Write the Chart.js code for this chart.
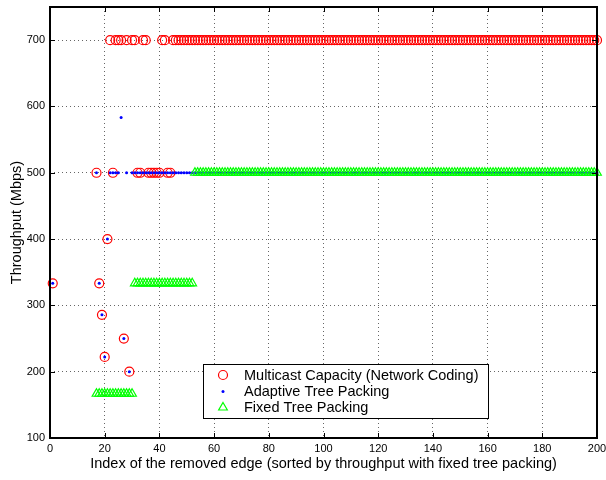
<!DOCTYPE html>
<html>
<head>
<meta charset="utf-8">
<script src="https://cdn.jsdelivr.net/npm/chart.js@4"></script>
<style>
  html, body { margin: 0; padding: 0; background: #fff; }
  canvas { display: block; }
</style>
</head>
<body>
<canvas id="chart" width="606" height="480"></canvas>
<script>
// x: index of the removed edge, 1..200
const capacity = [
  333.3, null, null, null, null, null, null, null, null, null, null, null, null, null, null, null, 500, 333.3, 285.7, 222.2,
  400, 700, 500, 700, 700, 700, 250, 700, 200, 700, 700, 500, 500, 700, 700, 500, 500, 500, 500, 500,
  700, 700, 500, 500, 700, 700, 700, 700, 700, 700, 700, 700, 700, 700, 700, 700, 700, 700, 700, 700,
  700, 700, 700, 700, 700, 700, 700, 700, 700, 700, 700, 700, 700, 700, 700, 700, 700, 700, 700, 700,
  700, 700, 700, 700, 700, 700, 700, 700, 700, 700, 700, 700, 700, 700, 700, 700, 700, 700, 700, 700,
  700, 700, 700, 700, 700, 700, 700, 700, 700, 700, 700, 700, 700, 700, 700, 700, 700, 700, 700, 700,
  700, 700, 700, 700, 700, 700, 700, 700, 700, 700, 700, 700, 700, 700, 700, 700, 700, 700, 700, 700,
  700, 700, 700, 700, 700, 700, 700, 700, 700, 700, 700, 700, 700, 700, 700, 700, 700, 700, 700, 700,
  700, 700, 700, 700, 700, 700, 700, 700, 700, 700, 700, 700, 700, 700, 700, 700, 700, 700, 700, 700,
  700, 700, 700, 700, 700, 700, 700, 700, 700, 700, 700, 700, 700, 700, 700, 700, 700, 700, 700, 700
];

const adaptive = [
  333.3, null, null, null, null, null, null, null, null, null, null, null, null, null, null, null, 500, 333.3, 285.7, 222.2,
  400, 500, 500, 500, 500, 583.3, 250, 500, 200, 500, 500, 500, 500, 500, 500, 500, 500, 500, 500, 500,
  500, 500, 500, 500, 500, 500, 500, 500, 500, 500, 500, 500, 500, 500, 500, 500, 500, 500, 500, 500,
  500, 500, 500, 500, 500, 500, 500, 500, 500, 500, 500, 500, 500, 500, 500, 500, 500, 500, 500, 500,
  500, 500, 500, 500, 500, 500, 500, 500, 500, 500, 500, 500, 500, 500, 500, 500, 500, 500, 500, 500,
  500, 500, 500, 500, 500, 500, 500, 500, 500, 500, 500, 500, 500, 500, 500, 500, 500, 500, 500, 500,
  500, 500, 500, 500, 500, 500, 500, 500, 500, 500, 500, 500, 500, 500, 500, 500, 500, 500, 500, 500,
  500, 500, 500, 500, 500, 500, 500, 500, 500, 500, 500, 500, 500, 500, 500, 500, 500, 500, 500, 500,
  500, 500, 500, 500, 500, 500, 500, 500, 500, 500, 500, 500, 500, 500, 500, 500, 500, 500, 500, 500,
  500, 500, 500, 500, 500, 500, 500, 500, 500, 500, 500, 500, 500, 500, 500, 500, 500, 500, 500, 500
];

const fixed = [
  null, null, null, null, null, null, null, null, null, null, null, null, null, null, null, null, 166.7, 166.7, 166.7, 166.7,
  166.7, 166.7, 166.7, 166.7, 166.7, 166.7, 166.7, 166.7, 166.7, 166.7, 333.3, 333.3, 333.3, 333.3, 333.3, 333.3, 333.3, 333.3, 333.3, 333.3,
  333.3, 333.3, 333.3, 333.3, 333.3, 333.3, 333.3, 333.3, 333.3, 333.3, 333.3, 333.3, 500, 500, 500, 500, 500, 500, 500, 500,
  500, 500, 500, 500, 500, 500, 500, 500, 500, 500, 500, 500, 500, 500, 500, 500, 500, 500, 500, 500,
  500, 500, 500, 500, 500, 500, 500, 500, 500, 500, 500, 500, 500, 500, 500, 500, 500, 500, 500, 500,
  500, 500, 500, 500, 500, 500, 500, 500, 500, 500, 500, 500, 500, 500, 500, 500, 500, 500, 500, 500,
  500, 500, 500, 500, 500, 500, 500, 500, 500, 500, 500, 500, 500, 500, 500, 500, 500, 500, 500, 500,
  500, 500, 500, 500, 500, 500, 500, 500, 500, 500, 500, 500, 500, 500, 500, 500, 500, 500, 500, 500,
  500, 500, 500, 500, 500, 500, 500, 500, 500, 500, 500, 500, 500, 500, 500, 500, 500, 500, 500, 500,
  500, 500, 500, 500, 500, 500, 500, 500, 500, 500, 500, 500, 500, 500, 500, 500, 500, 500, 500, 500
];

const xTicks = [0, 20, 40, 60, 80, 100, 120, 140, 160, 180, 200];
const yTicks = [100, 200, 300, 400, 500, 600, 700];

const FONT = 'Liberation Sans, Arial, Helvetica, sans-serif';

const toPoints = arr => arr
  .map((v, i) => ({ x: i + 1, y: v }))
  .filter(p => p.y != null);

// box around the axes + inward tick marks on all four sides (matlab style)
const axesBox = {
  id: 'axesBox',
  afterDatasetsDraw(chart) {
    const { ctx, chartArea: a, scales: { x, y } } = chart;
    ctx.save();
    ctx.strokeStyle = '#000';
    ctx.lineWidth = 1;
    ctx.beginPath();
    xTicks.forEach(t => {
      const px = Math.round(x.getPixelForValue(t)) + 0.5;
      ctx.moveTo(px, a.bottom); ctx.lineTo(px, a.bottom - 5);
      ctx.moveTo(px, a.top); ctx.lineTo(px, a.top + 5);
    });
    yTicks.forEach(t => {
      const py = Math.round(y.getPixelForValue(t)) + 0.5;
      ctx.moveTo(a.left, py); ctx.lineTo(a.left + 5, py);
      ctx.moveTo(a.right, py); ctx.lineTo(a.right - 5, py);
    });
    ctx.stroke();
    ctx.lineWidth = 2;
    ctx.strokeRect(a.left, a.top, a.right - a.left, a.bottom - a.top);
    ctx.restore();
  }
};

const boxLegend = {
  id: 'boxLegend',
  afterDraw(chart) {
    const { ctx } = chart;
    const bx = 203, by = 364, bw = 285, bh = 54;
    ctx.save();
    ctx.fillStyle = '#fff';
    ctx.fillRect(bx, by, bw, bh);
    ctx.strokeStyle = '#000';
    ctx.lineWidth = 1;
    ctx.strokeRect(bx + 0.5, by + 0.5, bw, bh);
    const rows = [375, 391.5, 407.5];
    ctx.font = '14.5px ' + FONT;
    ctx.textBaseline = 'middle';
    chart.data.datasets.forEach((ds, i) => {
      const yy = rows[i];
      ctx.strokeStyle = ds.borderColor;
      ctx.fillStyle = ds.borderColor;
      ctx.lineWidth = ds.pointBorderWidth || 1;
      ctx.beginPath();
      if (ds.pointStyle === 'triangle') {
        const r = ds.pointRadius;
        ctx.moveTo(223, yy - r);
        ctx.lineTo(223 + r * 0.866, yy + r * 0.5);
        ctx.lineTo(223 - r * 0.866, yy + r * 0.5);
        ctx.closePath();
        ctx.stroke();
      } else if (ds.pointBorderWidth === 0) {
        ctx.arc(223, yy, ds.pointRadius, 0, Math.PI * 2);
        ctx.fill();
      } else {
        ctx.arc(223, yy, ds.pointRadius, 0, Math.PI * 2);
        ctx.stroke();
      }
      ctx.fillStyle = '#000';
      ctx.fillText(ds.label, 244, yy + 0.5);
    });
    ctx.restore();
  }
};

new Chart(document.getElementById('chart'), {
  type: 'scatter',
  data: {
    datasets: [
      {
        label: 'Multicast Capacity (Network Coding)',
        data: toPoints(capacity),
        pointStyle: 'circle',
        pointRadius: 4.5,
        pointBorderWidth: 1.2,
        borderColor: '#ff0000',
        backgroundColor: 'rgba(0,0,0,0)',
        order: 3
      },
      {
        label: 'Adaptive Tree Packing',
        data: toPoints(adaptive),
        pointStyle: 'circle',
        pointRadius: 1.5,
        pointBorderWidth: 0,
        borderColor: '#0000ff',
        backgroundColor: '#0000ff',
        order: 2
      },
      {
        label: 'Fixed Tree Packing',
        data: toPoints(fixed),
        pointStyle: 'triangle',
        pointRadius: 5,
        pointBorderWidth: 1.2,
        borderColor: '#00ff00',
        backgroundColor: 'rgba(0,0,0,0)',
        order: 1
      }
    ]
  },
  options: {
    responsive: false,
    animation: false,
    clip: false,
    layout: { padding: { top: 7, right: 9, left: 0, bottom: 0 } },
    plugins: { legend: { display: false }, tooltip: { enabled: false } },
    scales: {
      x: {
        type: 'linear',
        min: 0,
        max: 200,
        afterBuildTicks: s => { s.ticks = xTicks.map(v => ({ value: v })); },
        afterFit: s => { s.height = 42; s.paddingLeft = 0; s.paddingRight = 0; },
        grid: { color: '#666', drawTicks: false },
        border: { display: false, dash: [1, 3] },
        ticks: { padding: 4, color: '#000', font: { family: FONT, size: 11 } },
        title: {
          display: true,
          text: 'Index of the removed edge (sorted by throughput with fixed tree packing)',
          color: '#000',
          font: { family: FONT, size: 14.5 },
          padding: { top: 0, bottom: 7 }
        }
      },
      y: {
        type: 'linear',
        min: 100,
        max: 750,
        afterBuildTicks: s => { s.ticks = yTicks.map(v => ({ value: v })); },
        afterFit: s => { s.width = 50; s.paddingTop = 0; s.paddingBottom = 0; },
        grid: { color: '#666', drawTicks: false },
        border: { display: false, dash: [1, 3] },
        ticks: { padding: 5, color: '#000', font: { family: FONT, size: 11 } },
        title: {
          display: true,
          text: 'Throughput (Mbps)',
          color: '#000',
          font: { family: FONT, size: 14.5 },
          padding: { top: 8, bottom: 0 }
        }
      }
    }
  },
  plugins: [axesBox, boxLegend]
});
</script>
</body>
</html>
